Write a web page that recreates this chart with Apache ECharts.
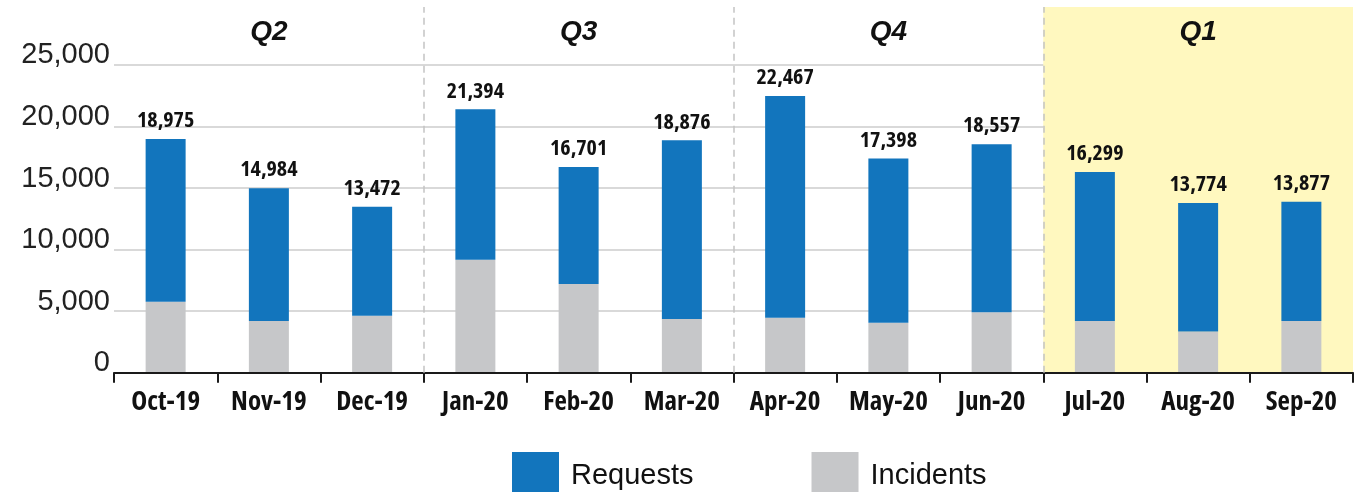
<!DOCTYPE html>
<html>
<head>
<meta charset="utf-8">
<script src="https://cdn.jsdelivr.net/npm/echarts@6/dist/echarts.min.js"></script>
<style>
html,body{margin:0;padding:0;background:#fff;}
#chart{width:1361px;height:492px;}
</style>
</head>
<body>
<div id="chart"></div>
<script>
const months = ['Oct-19','Nov-19','Dec-19','Jan-20','Feb-20','Mar-20','Apr-20','May-20','Jun-20','Jul-20','Aug-20','Sep-20'];
const totals = [18975,14984,13472,21394,16701,18876,22467,17398,18557,16299,13774,13877];
const incidents = [5760,4190,4620,9180,7210,4360,4460,4050,4900,4190,3340,4190];
const requests = [13215,10794,8852,12214,9491,14516,18007,13348,13657,12109,10434,9687];
const quarters = ['Q2','Q3','Q4','Q1'];
const quarterSpans = [[0,3],[3,6],[6,9],[9,12]];
const highlightQuarter = 3;

const regular = '"Liberation Sans",Arial,sans-serif';
const narrow = '"Open Sans",Roboto,sans-serif';

const chart = echarts.init(document.getElementById('chart'), null, {renderer:'canvas'});
chart.setOption({
  animation:false,
  backgroundColor:'#ffffff',
  grid:{left:114, right:8, top:7, bottom:119.3, containLabel:false},
  legend:{
    data:['Requests','Incidents'],
    left:512, top:452, padding:0,
    itemWidth:47, itemHeight:47, itemGap:118,
    icon:'rect',
    textStyle:{fontFamily:regular, fontSize:29, color:'#111', padding:[0,0,0,7]}
  },
  xAxis:[{
    type:'category',
    data:months,
    z:3,
    axisLine:{show:true, lineStyle:{color:'#1a1a1a', width:2}},
    axisTick:{show:true, length:10, lineStyle:{color:'#1a1a1a', width:2}},
    axisLabel:{interval:0, fontFamily:narrow, fontWeight:'bold condensed', fontSize:27, color:'#111', margin:16}
  },{
    type:'value', min:0, max:12, show:false
  }],
  yAxis:{
    type:'value', min:0, max:29700, interval:5000,
    z:1,
    axisLine:{show:false}, axisTick:{show:false},
    splitLine:{show:true, showMaxLine:false, lineStyle:{color:'#d9d9d9', width:2}},
    axisLabel:{
      showMaxLabel:false,
      fontFamily:regular, fontSize:29, color:'#222', margin:4,
      verticalAlign:'bottom', lineHeight:19,
      formatter:v=>v.toLocaleString('en-US')
    }
  },
  series:[
    {
      name:'helper', type:'scatter', xAxisIndex:1, yAxisIndex:0, z:0, silent:true,
      symbolSize:0, data:[[0,0]],
      markArea:{
        silent:true,
        data:quarterSpans.map((s,i)=>[
          {xAxis:s[0], name:quarters[i], itemStyle:{color: i===highlightQuarter ? '#fff8bf' : 'rgba(0,0,0,0)'}},
          {xAxis:s[1]}
        ]),
        label:{show:true, position:'insideTop', distance:11, fontFamily:regular, fontSize:28, fontWeight:'bold', fontStyle:'italic', color:'#111'}
      },
      markLine:{
        silent:true, symbol:['none','none'], label:{show:false},
        lineStyle:{type:[7,5], color:'#c4c4c4', width:1.5},
        data:[{xAxis:3},{xAxis:6},{xAxis:9}]
      }
    },
    {
      name:'Incidents', type:'bar', stack:'t', data:incidents, barWidth:40, z:2,
      itemStyle:{color:'#c6c7c9'}
    },
    {
      name:'Requests', type:'bar', stack:'t', data:requests, barWidth:40, z:2,
      itemStyle:{color:'#1275bd'},
      label:{show:true, position:'top', distance:7, fontFamily:narrow, fontWeight:'bold condensed', fontSize:22, color:'#111',
        formatter:p=>totals[p.dataIndex].toLocaleString('en-US')}
    }
  ]
});
</script>
</body>
</html>
